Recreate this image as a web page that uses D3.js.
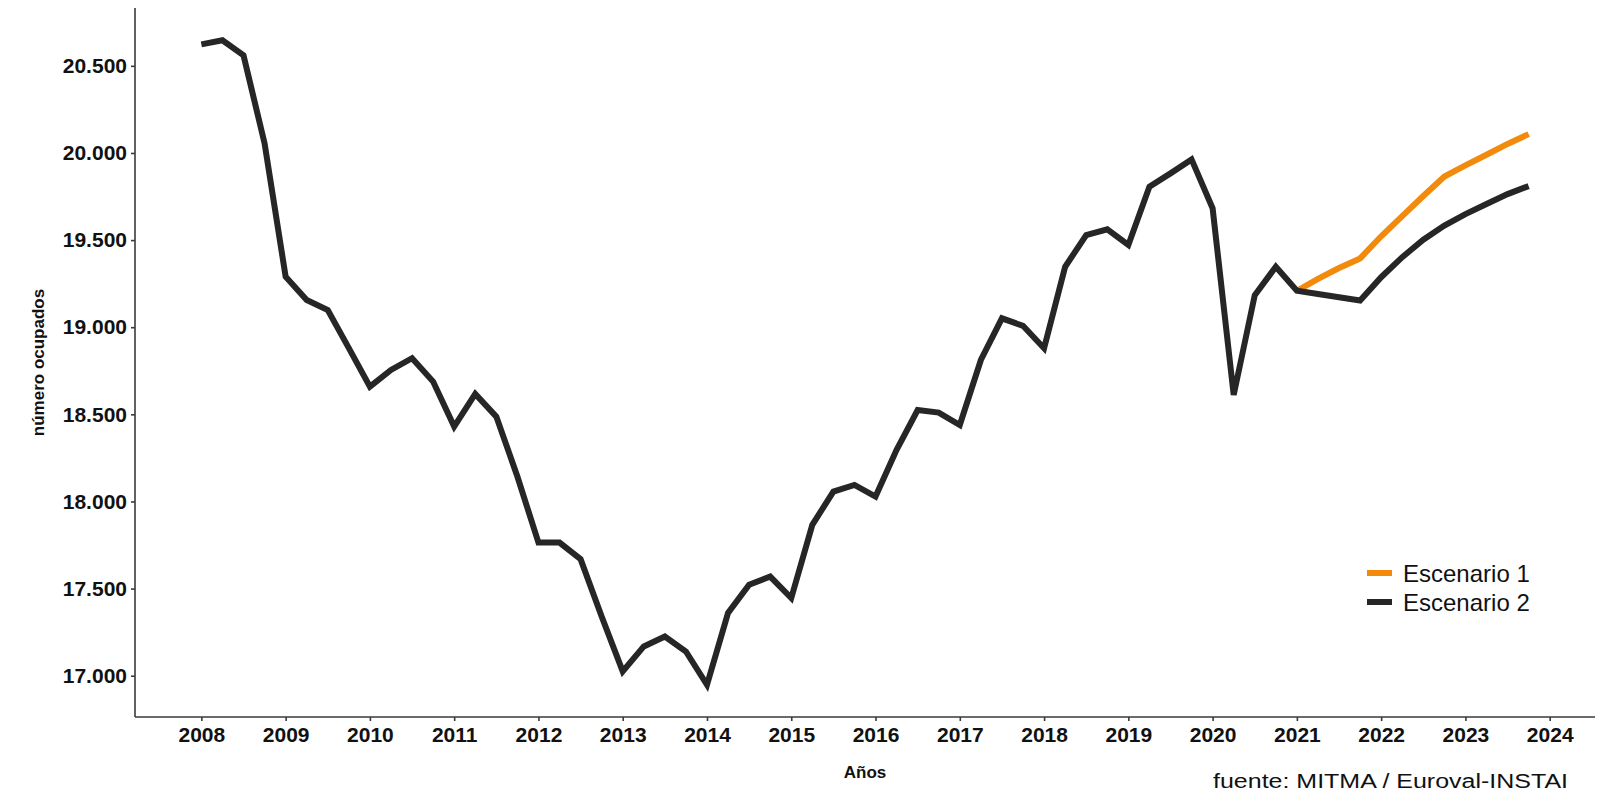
<!DOCTYPE html>
<html>
<head>
<meta charset="utf-8">
<script src="https://cdn.jsdelivr.net/npm/d3@7"></script>
<style>
  html, body { margin: 0; padding: 0; background: #ffffff; }
  svg { display: block; }
</style>
</head>
<body>
<svg id="chart" width="1621" height="794"></svg>
<script>
// ---- Data (thousands of employed people, quarterly) ----
const periods = [
  2008.00, 2008.25, 2008.50, 2008.75,
  2009.00, 2009.25, 2009.50, 2009.75,
  2010.00, 2010.25, 2010.50, 2010.75,
  2011.00, 2011.25, 2011.50, 2011.75,
  2012.00, 2012.25, 2012.50, 2012.75,
  2013.00, 2013.25, 2013.50, 2013.75,
  2014.00, 2014.25, 2014.50, 2014.75,
  2015.00, 2015.25, 2015.50, 2015.75,
  2016.00, 2016.25, 2016.50, 2016.75,
  2017.00, 2017.25, 2017.50, 2017.75,
  2018.00, 2018.25, 2018.50, 2018.75,
  2019.00, 2019.25, 2019.50, 2019.75,
  2020.00, 2020.25, 2020.50, 2020.75,
  2021.00, 2021.25, 2021.50, 2021.75,
  2022.00, 2022.25, 2022.50, 2022.75,
  2023.00, 2023.25, 2023.50, 2023.75
];
const escenario2 = [
  20623, 20647, 20561, 20055,
  19290, 19156, 19099, 18880,
  18659, 18755, 18822, 18688,
  18430, 18617, 18487, 18143,
  17764, 17764, 17669, 17340,
  17025, 17168, 17225, 17139,
  16948, 17360, 17522, 17569,
  17446, 17866, 18057, 18095,
  18028, 18296, 18525, 18510,
  18439, 18812, 19051, 19008,
  18879, 19347, 19529, 19562,
  19472, 19806, 19883, 19963,
  19682, 18611, 19184, 19347,
  19209, 19191, 19172, 19153,
  19287, 19402, 19502, 19583,
  19649, 19707, 19764, 19810
];
const periodsEsc1 = [
  2021.00, 2021.25, 2021.50, 2021.75,
  2022.00, 2022.25, 2022.50, 2022.75,
  2023.00, 2023.25, 2023.50, 2023.75
];
const escenario1 = [
  19209, 19277, 19340, 19395,
  19522, 19638, 19753, 19865,
  19929, 19990, 20052, 20108
];
const seriesNames = ["Escenario 1", "Escenario 2"];
const seriesColors = ["#F28A0C", "#262626"];
const xTickValues = [2008, 2009, 2010, 2011, 2012, 2013, 2014, 2015, 2016, 2017, 2018, 2019, 2020, 2021, 2022, 2023, 2024];
const yTickValues = [17000, 17500, 18000, 18500, 19000, 19500, 20000, 20500];
const xTitle = "Años";
const yTitle = "número ocupados";
const sourceText = "fuente: MITMA / Euroval-INSTAI";

// ---- Layout ----
const svg = d3.select("#chart");
const W = 1621, H = 794;
const plot = { left: 135, right: 1595, top: 8, bottom: 717 };
svg.append("rect").attr("width", W).attr("height", H).attr("fill", "#ffffff");

function expand(ext, f) { const r = ext[1] - ext[0]; return [ext[0] - r * f, ext[1] + r * f]; }
const allVals = escenario2.concat(escenario1);
const x = d3.scaleLinear().domain(expand(d3.extent(periods), 0.05)).range([plot.left, plot.right]);
const y = d3.scaleLinear().domain(expand(d3.extent(allVals), 0.05)).range([plot.bottom, plot.top]);

const es = d3.formatLocale({ decimal: ",", thousands: ".", grouping: [3], currency: ["", "€"] });
const fmtY = es.format(",");

const fontFam = "'Liberation Sans', Arial, Helvetica, sans-serif";

// Axes
const yAxis = svg.append("g").attr("transform", `translate(${plot.left},0)`)
  .call(d3.axisLeft(y).tickValues(yTickValues).tickFormat(fmtY).tickSizeOuter(0).tickSizeInner(4).tickPadding(4));
const xAxis = svg.append("g").attr("transform", `translate(0,${plot.bottom})`)
  .call(d3.axisBottom(x).tickValues(xTickValues).tickFormat(d3.format("d")).tickSizeOuter(0).tickSizeInner(4).tickPadding(6));

[yAxis, xAxis].forEach(g => {
  g.select(".domain").attr("stroke", "#3a3a3a").attr("stroke-width", 1.6);
  g.selectAll(".tick line").attr("stroke", "#3a3a3a").attr("stroke-width", 1.6);
  g.selectAll(".tick text").attr("fill", "#111111").attr("font-family", fontFam)
    .attr("font-weight", "bold").attr("font-size", 21);
});
// make the axis lines span the full panel
yAxis.select(".domain").attr("d", `M0,${plot.top}V${plot.bottom}`);
xAxis.select(".domain").attr("d", `M${plot.left},0H${plot.right}`);

// Lines
const line = d3.line().x(d => x(d[0])).y(d => y(d[1]));
const data1 = periodsEsc1.map((p, i) => [p, escenario1[i]]);
const data2 = periods.map((p, i) => [p, escenario2[i]]);

svg.append("path").datum(data1).attr("d", line)
  .attr("fill", "none").attr("stroke", seriesColors[0]).attr("stroke-width", 6)
  .attr("stroke-linejoin", "miter").attr("stroke-linecap", "butt");
svg.append("path").datum(data2).attr("d", line)
  .attr("fill", "none").attr("stroke", seriesColors[1]).attr("stroke-width", 6)
  .attr("stroke-linejoin", "miter").attr("stroke-linecap", "butt");

// Axis titles
svg.append("text").attr("x", (plot.left + plot.right) / 2).attr("y", 778)
  .attr("text-anchor", "middle").attr("font-family", fontFam).attr("font-weight", "bold")
  .attr("font-size", 17).attr("fill", "#111").text(xTitle);
svg.append("text").attr("transform", `translate(38,${(plot.top + plot.bottom) / 2}) rotate(-90)`)
  .attr("text-anchor", "middle").attr("dominant-baseline", "central").attr("font-family", fontFam)
  .attr("font-weight", "bold").attr("font-size", 17).attr("fill", "#111").text(yTitle);

// Legend
const legend = svg.append("g").attr("transform", "translate(1367,573)");
seriesNames.forEach((name, i) => {
  const g = legend.append("g").attr("transform", `translate(0,${i * 29})`);
  g.append("line").attr("x1", 0).attr("x2", 25).attr("y1", 0).attr("y2", 0)
    .attr("stroke", seriesColors[i]).attr("stroke-width", 6);
  g.append("text").attr("x", 36).attr("y", 0).attr("dominant-baseline", "central")
    .attr("font-family", fontFam).attr("font-size", 24).attr("fill", "#111").text(name);
});

// Source caption
svg.append("text").attr("x", 1568).attr("y", 788).attr("text-anchor", "end")
  .attr("font-family", fontFam).attr("font-size", 20).attr("fill", "#111")
  .attr("textLength", 355).attr("lengthAdjust", "spacingAndGlyphs").text(sourceText);
</script>
</body>
</html>
